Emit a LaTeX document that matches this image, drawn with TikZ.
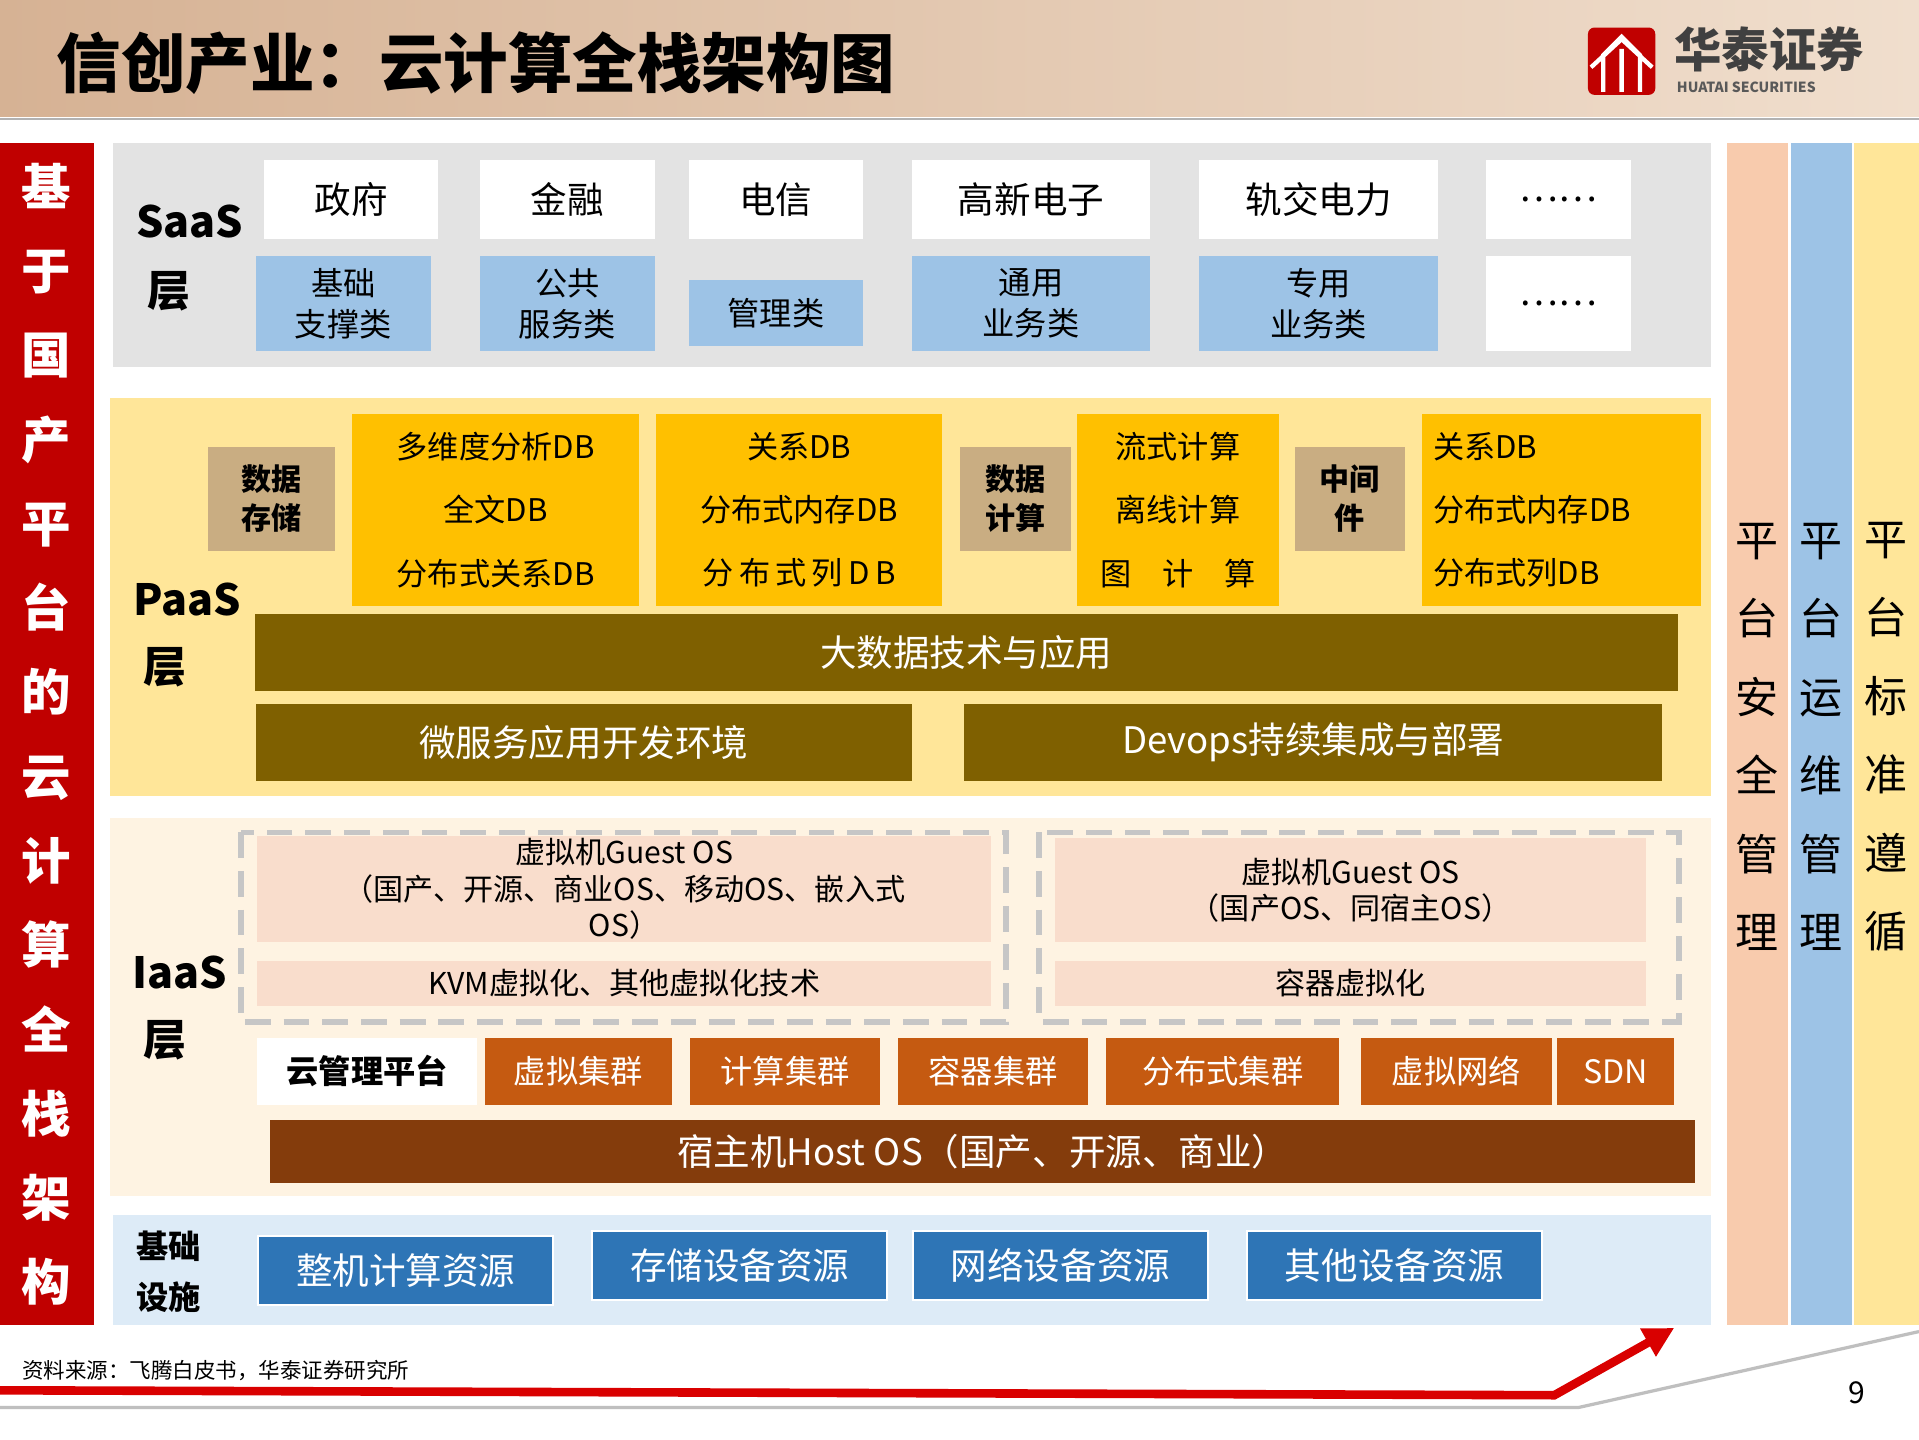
\documentclass[tikz,border=0pt]{standalone}
\usepackage{fontspec}
\setmainfont{Noto Sans CJK SC}
\usetikzlibrary{arrows.meta}
\definecolor{saasg}{HTML}{E3E3E3}
\definecolor{lblue}{HTML}{9DC3E6}
\definecolor{paasy}{HTML}{FFE699}
\definecolor{gold}{HTML}{FFC000}
\definecolor{tan}{HTML}{C9AD82}
\definecolor{olive}{HTML}{7F6000}
\definecolor{iaasb}{HTML}{FEF3E2}
\definecolor{pinkb}{HTML}{F9DDCC}
\definecolor{orng}{HTML}{C55A11}
\definecolor{brown}{HTML}{843C0C}
\definecolor{infrab}{HTML}{DDEBF7}
\definecolor{dblue}{HTML}{2E75B6}
\definecolor{salmon}{HTML}{F8CBAD}
\definecolor{hred}{HTML}{C00000}
\tikzset{bx/.style={inner sep=0pt,outer sep=0pt,align=center}}
\newcommand{\bt}[7]{\node[bx,#6,minimum width={(#4-#2)*0.02cm},minimum height={(#5-#3)*0.02cm}] (#1) at ({(#2+#4)/2},{(#3+#5)/2}) {#7};}
\newcommand{\bx}[6]{\bt{#1}{#2}{#3}{#4}{#5}{#6}{}}
\begin{document}
\begin{tikzpicture}[x=0.02cm,y=-0.02cm]
\useasboundingbox (0,0) rectangle (1568,1176);
\fill[white] (0,0) rectangle (1568,1176);
% title
\shade[left color={rgb,255:red,214;green,178;blue,148},right color={rgb,255:red,240;green,222;blue,205}] (0,0) rectangle (1568,95);
\draw[gray!60,line width=1pt] (0,97) -- (1568,97);
\node[anchor=west,font=\fontsize{30}{34}\selectfont\bfseries] (title) at (40,52) {信创产业：云计算全栈架构图};
\node[fill=hred,minimum width=1.1cm,minimum height=1.1cm,inner sep=0pt,rounded corners=3pt] (logo) at (1325,50) {};
\draw[white,line width=2pt] (1310,75) -- (1310,45) -- (1325,30) -- (1340,45) -- (1340,75) (1325,40)--(1325,75) (1300,55)--(1325,32)--(1350,55);
\node[anchor=west,font=\fontsize{22}{24}\selectfont\bfseries,text=black!75] (hname) at (1362,40) {华泰证券};
\node[anchor=west,font=\fontsize{6.5}{7}\selectfont\bfseries,text=black!65] (hen) at (1364,71) {HUATAI SECURITIES};
% left bar
\bx{lbar}{0}{117}{77}{1083}{fill=hred}
\node[bx,text=white,font=\fontsize{23}{39.2}\selectfont\bfseries,text width=0.9cm] (ltext) at (38,600) {基\\于\\国\\产\\平\\台\\的\\云\\计\\算\\全\\栈\\架\\构};
% right columns
\bx{c1}{1411}{117}{1461}{1083}{fill=salmon}
\bx{c2}{1463}{117}{1513}{1083}{fill=lblue}
\bx{c3}{1515}{117}{1568}{1083}{fill=paasy}
\foreach \x/\t/\n in {1436/平\\台\\安\\全\\管\\理/r1,1488/平\\台\\运\\维\\管\\理/r2,1541/平\\台\\标\\准\\遵\\循/r3}
  \node[bx,font=\fontsize{20}{36.5}\selectfont,text width=0.8cm] (\n) at (\x,602) {\t};
% SaaS
\bx{saas}{92}{117}{1398}{300}{fill=saasg}
\node[font=\fontsize{20}{22}\selectfont\bfseries] (saasl) at (155,181) {SaaS};
\node[font=\fontsize{20}{22}\selectfont\bfseries] (saasc) at (138,238) {层};
\tikzset{wb/.style={fill=white,font=\fontsize{17}{20}\selectfont},lb/.style={fill=lblue,font=\fontsize{15}{19}\selectfont}}
\bt{s1}{216}{131}{358}{195}{wb}{政府}
\bt{s2}{392}{131}{535}{195}{wb}{金融}
\bt{s3}{563}{131}{705}{195}{wb}{电信}
\bt{s4}{745}{131}{940}{195}{wb}{高新电子}
\bt{s5}{980}{131}{1175}{195}{wb}{轨交电力}
\bt{s6}{1214}{131}{1333}{195}{wb}{……}
\bt{t1}{209}{209}{352}{287}{lb}{基础\\支撑类}
\bt{t2}{392}{209}{535}{287}{lb}{公共\\服务类}
\bt{t3}{563}{229}{705}{283}{lb}{管理类}
\bt{t4}{745}{209}{940}{287}{lb}{通用\\业务类}
\bt{t5}{980}{209}{1175}{287}{lb}{专用\\业务类}
\bt{t6}{1214}{209}{1333}{287}{wb}{……}
% PaaS
\bx{paas}{90}{325}{1398}{650}{fill=paasy}
\node[font=\fontsize{20}{22}\selectfont\bfseries] (paasl) at (153,490) {PaaS};
\node[font=\fontsize{20}{22}\selectfont\bfseries] (paasc) at (135,545) {层};
\tikzset{tb/.style={fill=tan,font=\fontsize{14}{18}\selectfont\bfseries},gb/.style={fill=gold,font=\fontsize{14.5}{29.5}\selectfont},ob/.style={fill=olive,text=white,font=\fontsize{17}{20}\selectfont}}
\bt{p1}{170}{365}{274}{450}{tb}{数据\\存储}
\bt{p2}{288}{338}{522}{495}{gb}{多维度分析DB\\全文DB\\分布式关系DB}
\bt{p3}{536}{338}{770}{495}{gb}{关系DB\\分布式内存DB\\分\,布\,式\,列\,D\,B}
\bt{p4}{784}{365}{875}{450}{tb}{数据\\计算}
\bt{p5}{880}{338}{1045}{495}{gb}{流式计算\\离线计算\\图\quad 计\quad 算}
\bt{p6}{1058}{365}{1148}{450}{tb}{中间\\件}
\node[bx,fill=gold,font=\fontsize{14.5}{29.5}\selectfont,minimum width={228*0.02cm},minimum height={157*0.02cm},align=left,text width={210*0.02cm}] (p7) at (1276,416.5) {关系DB\\分布式内存DB\\分布式列DB};
\bt{bd}{208}{502}{1371}{565}{ob}{大数据技术与应用}
\bt{ms}{209}{575}{745}{638}{ob}{微服务应用开发环境}
\bt{dv}{788}{575}{1358}{638}{ob}{Devops持续集成与部署}
% IaaS
\bx{iaas}{90}{668}{1398}{977}{fill=iaasb}
\node[font=\fontsize{20}{22}\selectfont\bfseries] (iaasl) at (147,795) {IaaS};
\node[font=\fontsize{20}{22}\selectfont\bfseries] (iaasc) at (135,850) {层};
\tikzset{pb/.style={fill=pinkb,font=\fontsize{14}{17}\selectfont}}
\bt{v1}{210}{683}{810}{770}{pb}{虚拟机Guest OS\\（国产、开源、商业OS、移动OS、嵌入式\\OS）}
\bt{v2}{210}{785}{810}{822}{pb}{KVM虚拟化、其他虚拟化技术}
\bt{v3}{862}{685}{1345}{770}{pb}{虚拟机Guest OS\\（国产OS、同宿主OS）}
\bt{v4}{862}{785}{1345}{822}{pb}{容器虚拟化}
\draw[gray!45,line width=2.5pt,dash pattern=on 12pt off 6pt] (197,680) rectangle (822,835);
\draw[gray!45,line width=2.5pt,dash pattern=on 12pt off 6pt] (849,680) rectangle (1372,835);
\tikzset{rb/.style={fill=orng,text=white,font=\fontsize{15}{18}\selectfont}}
\bt{k0}{210}{848}{390}{903}{fill=white,font=\fontsize{15}{18}\selectfont\bfseries}{云管理平台}
\bt{k1}{396}{848}{549}{903}{rb}{虚拟集群}
\bt{k2}{564}{848}{719}{903}{rb}{计算集群}
\bt{k3}{734}{848}{889}{903}{rb}{容器集群}
\bt{k4}{904}{848}{1094}{903}{rb}{分布式集群}
\bt{k5}{1112}{848}{1268}{903}{rb}{虚拟网络}
\bt{k6}{1272}{848}{1368}{903}{rb}{SDN}
\bt{host}{221}{915}{1385}{967}{fill=brown,text=white,font=\fontsize{17}{20}\selectfont}{宿主机Host OS（国产、开源、商业）}
% infrastructure
\bx{infra}{92}{993}{1398}{1083}{fill=infrab}
\node[bx,font=\fontsize{15}{24}\selectfont\bfseries] (infl) at (138,1039) {基础\\设施};
\tikzset{db/.style={fill=dblue,text=white,font=\fontsize{17}{20}\selectfont,draw=white,line width=1pt}}
\bt{i1}{211}{1010}{452}{1066}{db}{整机计算资源}
\bt{i2}{484}{1006}{725}{1062}{db}{存储设备资源}
\bt{i3}{746}{1006}{987}{1062}{db}{网络设备资源}
\bt{i4}{1019}{1006}{1260}{1062}{db}{其他设备资源}
% footer
\coordinate (f0) at (0,1136);
\coordinate (f1) at (1270,1140);
\coordinate (f2) at (1368,1085);
\draw[gray!50,line width=1.5pt] (0,1150) -- (1290,1150) -- (1568,1088);
\draw[red!85!black,line width=4pt,-{Triangle[length=14pt,width=14pt]}] (f0) -- (f1) -- (f2);
\node[anchor=west,font=\fontsize{10}{12}\selectfont\itshape] (src) at (12,1120) {资料来源：飞腾白皮书，华泰证券研究所};
\node[font=\fontsize{14}{16}\selectfont] (pg) at (1517,1138) {9};
\end{tikzpicture}
\end{document}
